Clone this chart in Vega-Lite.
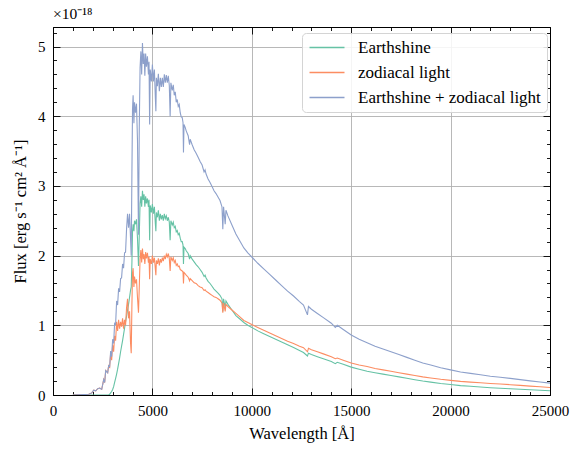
{
  "$schema": "https://vega.github.io/schema/vega-lite/v6.json",
  "width": 497,
  "height": 368,
  "autosize": {"type": "none"},
  "padding": {"left": 53, "top": 27, "right": 29, "bottom": 60},
  "background": "white",
  "config": {
    "font": "Liberation Serif",
    "view": {"stroke": "black", "strokeWidth": 1},
    "axis": {
      "domainColor": "black",
      "domainWidth": 1,
      "tickColor": "black",
      "tickWidth": 0.9,
      "gridColor": "#b0b0b0",
      "gridWidth": 0.9,
      "labelColor": "black",
      "labelFont": "Liberation Serif",
      "labelFontSize": 15,
      "titleFont": "Liberation Serif",
      "titleFontSize": 16.5,
      "titleFontWeight": "normal",
      "titleColor": "black"
    }
  },
  "title": {
    "text": "×10⁻¹⁸",
    "anchor": "start",
    "frame": "group",
    "offset": 4,
    "fontSize": 15.5,
    "font": "Liberation Serif",
    "fontWeight": "normal",
    "color": "black"
  },
  "data": {
    "values": [
      {"w": 1000, "E": 0, "Z": 0, "T": 0},
      {"w": 1800, "E": 0, "Z": 0.01, "T": 0.01},
      {"w": 1950, "E": 0, "Z": 0.03, "T": 0.03},
      {"w": 2050, "E": 0, "Z": 0.07, "T": 0.07},
      {"w": 2150, "E": 0, "Z": 0.06, "T": 0.06},
      {"w": 2250, "E": 0, "Z": 0.09, "T": 0.09},
      {"w": 2350, "E": 0, "Z": 0.1, "T": 0.1},
      {"w": 2450, "E": 0, "Z": 0.08, "T": 0.08},
      {"w": 2550, "E": 0, "Z": 0.22, "T": 0.22},
      {"w": 2600, "E": 0, "Z": 0.18, "T": 0.18},
      {"w": 2650, "E": 0, "Z": 0.35, "T": 0.35},
      {"w": 2750, "E": 0, "Z": 0.32, "T": 0.32},
      {"w": 2800, "E": 0, "Z": 0.42, "T": 0.42},
      {"w": 2850, "E": 0.01, "Z": 0.4, "T": 0.41},
      {"w": 2900, "E": 0.03, "Z": 0.6, "T": 0.63},
      {"w": 2950, "E": 0.05, "Z": 0.5, "T": 0.55},
      {"w": 3000, "E": 0.08, "Z": 0.72, "T": 0.8},
      {"w": 3050, "E": 0.12, "Z": 0.62, "T": 0.74},
      {"w": 3100, "E": 0.18, "Z": 0.85, "T": 1.03},
      {"w": 3150, "E": 0.24, "Z": 0.78, "T": 1.02},
      {"w": 3200, "E": 0.3, "Z": 1.05, "T": 1.35},
      {"w": 3250, "E": 0.37, "Z": 0.92, "T": 1.29},
      {"w": 3300, "E": 0.45, "Z": 1.08, "T": 1.53},
      {"w": 3350, "E": 0.53, "Z": 0.95, "T": 1.48},
      {"w": 3400, "E": 0.62, "Z": 1.05, "T": 1.67},
      {"w": 3450, "E": 0.7, "Z": 0.98, "T": 1.68},
      {"w": 3500, "E": 0.78, "Z": 1.1, "T": 1.88},
      {"w": 3550, "E": 0.87, "Z": 0.95, "T": 1.82},
      {"w": 3600, "E": 0.96, "Z": 1.08, "T": 2.04},
      {"w": 3650, "E": 1.05, "Z": 1.0, "T": 2.05},
      {"w": 3700, "E": 1.13, "Z": 1.25, "T": 2.38},
      {"w": 3750, "E": 1.22, "Z": 1.38, "T": 2.6},
      {"w": 3800, "E": 1.3, "Z": 1.1, "T": 2.4},
      {"w": 3850, "E": 1.4, "Z": 1.2, "T": 2.6},
      {"w": 3900, "E": 1.5, "Z": 0.75, "T": 2.25},
      {"w": 3935, "E": 1.55, "Z": 0.6, "T": 2.0},
      {"w": 3970, "E": 1.9, "Z": 1.3, "T": 3.2},
      {"w": 4000, "E": 2.35, "Z": 1.75, "T": 4.1},
      {"w": 4030, "E": 2.45, "Z": 1.82, "T": 4.3},
      {"w": 4070, "E": 2.35, "Z": 1.55, "T": 3.9},
      {"w": 4100, "E": 2.5, "Z": 1.7, "T": 4.2},
      {"w": 4150, "E": 2.45, "Z": 1.6, "T": 4.05},
      {"w": 4200, "E": 2.52, "Z": 1.66, "T": 4.18},
      {"w": 4250, "E": 2.25, "Z": 1.4, "T": 3.65},
      {"w": 4300, "E": 1.85, "Z": 1.18, "T": 2.3},
      {"w": 4340, "E": 2.3, "Z": 1.55, "T": 3.85},
      {"w": 4380, "E": 2.75, "Z": 1.95, "T": 4.7},
      {"w": 4420, "E": 2.85, "Z": 2.08, "T": 4.93},
      {"w": 4460, "E": 2.7, "Z": 1.9, "T": 4.6},
      {"w": 4500, "E": 2.93, "Z": 2.1, "T": 5.05},
      {"w": 4540, "E": 2.8, "Z": 1.95, "T": 4.75},
      {"w": 4580, "E": 2.88, "Z": 2.02, "T": 4.9},
      {"w": 4620, "E": 2.7, "Z": 1.88, "T": 4.58},
      {"w": 4660, "E": 2.85, "Z": 2.05, "T": 4.9},
      {"w": 4700, "E": 2.75, "Z": 1.96, "T": 4.71},
      {"w": 4750, "E": 2.82, "Z": 2.04, "T": 4.86},
      {"w": 4800, "E": 2.7, "Z": 1.9, "T": 4.6},
      {"w": 4830, "E": 2.8, "Z": 1.98, "T": 4.78},
      {"w": 4861, "E": 2.22, "Z": 1.66, "T": 3.88},
      {"w": 4890, "E": 2.72, "Z": 1.95, "T": 4.67},
      {"w": 4950, "E": 2.62, "Z": 1.88, "T": 4.5},
      {"w": 5000, "E": 2.74, "Z": 2.0, "T": 4.74},
      {"w": 5050, "E": 2.6, "Z": 1.9, "T": 4.5},
      {"w": 5100, "E": 2.7, "Z": 1.97, "T": 4.67},
      {"w": 5150, "E": 2.45, "Z": 1.8, "T": 4.25},
      {"w": 5175, "E": 2.35, "Z": 1.72, "T": 4.07},
      {"w": 5200, "E": 2.62, "Z": 1.93, "T": 4.55},
      {"w": 5250, "E": 2.55, "Z": 1.88, "T": 4.43},
      {"w": 5300, "E": 2.65, "Z": 1.96, "T": 4.61},
      {"w": 5350, "E": 2.5, "Z": 1.86, "T": 4.36},
      {"w": 5400, "E": 2.6, "Z": 1.95, "T": 4.55},
      {"w": 5450, "E": 2.52, "Z": 1.9, "T": 4.42},
      {"w": 5500, "E": 2.58, "Z": 1.97, "T": 4.55},
      {"w": 5550, "E": 2.5, "Z": 1.92, "T": 4.42},
      {"w": 5600, "E": 2.6, "Z": 2.0, "T": 4.6},
      {"w": 5650, "E": 2.53, "Z": 1.95, "T": 4.48},
      {"w": 5700, "E": 2.57, "Z": 2.02, "T": 4.59},
      {"w": 5750, "E": 2.5, "Z": 1.98, "T": 4.48},
      {"w": 5800, "E": 2.55, "Z": 2.03, "T": 4.58},
      {"w": 5850, "E": 2.48, "Z": 1.96, "T": 4.44},
      {"w": 5893, "E": 2.22, "Z": 1.78, "T": 4.0},
      {"w": 5930, "E": 2.5, "Z": 1.98, "T": 4.48},
      {"w": 6000, "E": 2.44, "Z": 1.93, "T": 4.37},
      {"w": 6050, "E": 2.48, "Z": 1.97, "T": 4.45},
      {"w": 6100, "E": 2.4, "Z": 1.9, "T": 4.3},
      {"w": 6150, "E": 2.42, "Z": 1.93, "T": 4.35},
      {"w": 6200, "E": 2.34, "Z": 1.86, "T": 4.2},
      {"w": 6250, "E": 2.36, "Z": 1.88, "T": 4.24},
      {"w": 6300, "E": 2.3, "Z": 1.84, "T": 4.14},
      {"w": 6350, "E": 2.32, "Z": 1.85, "T": 4.17},
      {"w": 6400, "E": 2.25, "Z": 1.8, "T": 4.05},
      {"w": 6450, "E": 2.2, "Z": 1.79, "T": 3.99},
      {"w": 6500, "E": 2.2, "Z": 1.78, "T": 3.98},
      {"w": 6540, "E": 2.15, "Z": 1.76, "T": 3.91},
      {"w": 6563, "E": 1.88, "Z": 1.6, "T": 3.48},
      {"w": 6590, "E": 2.12, "Z": 1.76, "T": 3.88},
      {"w": 6650, "E": 2.1, "Z": 1.74, "T": 3.84},
      {"w": 6700, "E": 2.07, "Z": 1.72, "T": 3.79},
      {"w": 6800, "E": 2.03, "Z": 1.69, "T": 3.72},
      {"w": 6870, "E": 1.95, "Z": 1.64, "T": 3.59},
      {"w": 6900, "E": 2.0, "Z": 1.67, "T": 3.67},
      {"w": 7000, "E": 1.95, "Z": 1.64, "T": 3.59},
      {"w": 7100, "E": 1.91, "Z": 1.61, "T": 3.52},
      {"w": 7200, "E": 1.87, "Z": 1.6, "T": 3.47},
      {"w": 7300, "E": 1.84, "Z": 1.57, "T": 3.41},
      {"w": 7400, "E": 1.8, "Z": 1.55, "T": 3.35},
      {"w": 7500, "E": 1.76, "Z": 1.54, "T": 3.3},
      {"w": 7600, "E": 1.7, "Z": 1.5, "T": 3.2},
      {"w": 7650, "E": 1.72, "Z": 1.51, "T": 3.23},
      {"w": 7700, "E": 1.68, "Z": 1.49, "T": 3.17},
      {"w": 7800, "E": 1.63, "Z": 1.47, "T": 3.1},
      {"w": 7900, "E": 1.6, "Z": 1.45, "T": 3.05},
      {"w": 8000, "E": 1.56, "Z": 1.43, "T": 2.99},
      {"w": 8100, "E": 1.52, "Z": 1.41, "T": 2.93},
      {"w": 8200, "E": 1.49, "Z": 1.4, "T": 2.89},
      {"w": 8300, "E": 1.46, "Z": 1.38, "T": 2.84},
      {"w": 8400, "E": 1.43, "Z": 1.36, "T": 2.79},
      {"w": 8500, "E": 1.38, "Z": 1.32, "T": 2.7},
      {"w": 8542, "E": 1.2, "Z": 1.18, "T": 2.38},
      {"w": 8580, "E": 1.38, "Z": 1.32, "T": 2.7},
      {"w": 8662, "E": 1.25, "Z": 1.2, "T": 2.45},
      {"w": 8700, "E": 1.35, "Z": 1.3, "T": 2.65},
      {"w": 8800, "E": 1.3, "Z": 1.27, "T": 2.57},
      {"w": 9000, "E": 1.22, "Z": 1.22, "T": 2.44},
      {"w": 9200, "E": 1.14, "Z": 1.17, "T": 2.31},
      {"w": 9400, "E": 1.09, "Z": 1.12, "T": 2.21},
      {"w": 9600, "E": 1.04, "Z": 1.07, "T": 2.11},
      {"w": 9800, "E": 1.0, "Z": 1.04, "T": 2.04},
      {"w": 10000, "E": 0.97, "Z": 1.01, "T": 1.98},
      {"w": 10300, "E": 0.92, "Z": 0.97, "T": 1.89},
      {"w": 10600, "E": 0.88, "Z": 0.93, "T": 1.81},
      {"w": 10900, "E": 0.84, "Z": 0.89, "T": 1.73},
      {"w": 11200, "E": 0.8, "Z": 0.85, "T": 1.65},
      {"w": 11500, "E": 0.76, "Z": 0.81, "T": 1.57},
      {"w": 11800, "E": 0.72, "Z": 0.77, "T": 1.49},
      {"w": 12100, "E": 0.68, "Z": 0.74, "T": 1.42},
      {"w": 12400, "E": 0.64, "Z": 0.7, "T": 1.34},
      {"w": 12600, "E": 0.61, "Z": 0.68, "T": 1.29},
      {"w": 12800, "E": 0.56, "Z": 0.62, "T": 1.15},
      {"w": 12850, "E": 0.6, "Z": 0.67, "T": 1.27},
      {"w": 13000, "E": 0.58, "Z": 0.65, "T": 1.23},
      {"w": 13300, "E": 0.55, "Z": 0.62, "T": 1.17},
      {"w": 13600, "E": 0.52, "Z": 0.59, "T": 1.11},
      {"w": 14000, "E": 0.48, "Z": 0.55, "T": 1.03},
      {"w": 14200, "E": 0.45, "Z": 0.52, "T": 0.97},
      {"w": 14300, "E": 0.47, "Z": 0.53, "T": 1.0},
      {"w": 14600, "E": 0.44, "Z": 0.5, "T": 0.94},
      {"w": 15000, "E": 0.4, "Z": 0.46, "T": 0.86},
      {"w": 15400, "E": 0.37, "Z": 0.43, "T": 0.8},
      {"w": 15800, "E": 0.34, "Z": 0.41, "T": 0.75},
      {"w": 16200, "E": 0.32, "Z": 0.38, "T": 0.7},
      {"w": 16600, "E": 0.3, "Z": 0.36, "T": 0.66},
      {"w": 17000, "E": 0.28, "Z": 0.34, "T": 0.62},
      {"w": 17400, "E": 0.26, "Z": 0.32, "T": 0.58},
      {"w": 17800, "E": 0.24, "Z": 0.3, "T": 0.54},
      {"w": 18200, "E": 0.22, "Z": 0.28, "T": 0.5},
      {"w": 18600, "E": 0.2, "Z": 0.26, "T": 0.46},
      {"w": 19000, "E": 0.185, "Z": 0.245, "T": 0.43},
      {"w": 19500, "E": 0.165, "Z": 0.225, "T": 0.39},
      {"w": 20000, "E": 0.15, "Z": 0.21, "T": 0.36},
      {"w": 20500, "E": 0.135, "Z": 0.195, "T": 0.33},
      {"w": 21000, "E": 0.125, "Z": 0.185, "T": 0.31},
      {"w": 21500, "E": 0.115, "Z": 0.175, "T": 0.29},
      {"w": 22000, "E": 0.105, "Z": 0.165, "T": 0.27},
      {"w": 22500, "E": 0.097, "Z": 0.157, "T": 0.254},
      {"w": 23000, "E": 0.09, "Z": 0.148, "T": 0.238},
      {"w": 23500, "E": 0.082, "Z": 0.138, "T": 0.22},
      {"w": 24000, "E": 0.075, "Z": 0.128, "T": 0.203},
      {"w": 24500, "E": 0.068, "Z": 0.118, "T": 0.186},
      {"w": 25000, "E": 0.062, "Z": 0.108, "T": 0.17}
    ]
  },
  "transform": [{"fold": ["E", "Z", "T"], "as": ["series", "flux"]}],
  "layer": [
    {
      "mark": {"type": "line", "strokeWidth": 1.1, "clip": true},
      "encoding": {
        "x": {
          "field": "w", "type": "quantitative",
          "scale": {"domain": [0, 25000], "nice": false, "zero": false},
          "axis": {
            "orient": "bottom",
            "title": "Wavelength [Å]",
            "values": [0, 5000, 10000, 15000, 20000, 25000],
            "format": "d",
            "labelFlush": false,
            "labelOverlap": false,
            "labelPadding": 15,
            "tickSize": -7,
            "grid": true,
            "titlePadding": 7
          }
        },
        "y": {
          "field": "flux", "type": "quantitative",
          "scale": {"domain": [0, 5.28], "nice": false},
          "axis": {
            "orient": "left",
            "title": "Flux [erg s⁻¹ cm² Å⁻¹]",
            "values": [0, 1, 2, 3, 4, 5],
            "format": "d",
            "labelFlush": false,
            "labelOverlap": false,
            "labelPadding": 15,
            "tickSize": -7,
            "grid": true,
            "titlePadding": 9
          }
        },
        "color": {
          "field": "series", "type": "nominal",
          "scale": {"domain": ["E", "Z", "T"], "range": ["#66c2a5", "#fc8d62", "#8da0cb"]},
          "legend": {
            "orient": "none",
            "legendX": 249,
            "legendY": 6,
            "title": null,
            "labelExpr": "datum.label === 'E' ? 'Earthshine' : datum.label === 'Z' ? 'zodiacal light' : 'Earthshine + zodiacal light'",
            "symbolType": "M-1,0H4",
            "symbolSize": 196,
            "symbolStrokeWidth": 1.5,
            "labelFont": "Liberation Serif",
            "labelFontSize": 17,
            "labelColor": "black",
            "labelOffset": 33,
            "rowPadding": 7,
            "padding": 6,
            "fillColor": "rgba(255,255,255,0.85)",
            "strokeColor": "#d4d4d4",
            "cornerRadius": 4,
            "labelLimit": 300
          }
        }
      }
    },
    {
      "mark": {"type": "line", "opacity": 0},
      "encoding": {
        "x": {
          "field": "w", "type": "quantitative",
          "axis": {
            "orient": "top", "title": null, "labels": false, "grid": false,
            "values": [0, 5000, 10000, 15000, 20000, 25000],
            "tickSize": -7
          }
        },
        "y": {
          "field": "flux", "type": "quantitative",
          "axis": {
            "orient": "right", "title": null, "labels": false, "grid": false,
            "values": [0, 1, 2, 3, 4, 5],
            "tickSize": -7
          }
        }
      }
    },
    {
      "mark": {"type": "line", "opacity": 0},
      "encoding": {
        "x": {
          "field": "w", "type": "quantitative",
          "axis": {
            "orient": "bottom", "title": null, "labels": false, "grid": false, "domain": false,
            "values": [1000,2000,3000,4000,6000,7000,8000,9000,11000,12000,13000,14000,16000,17000,18000,19000,21000,22000,23000,24000],
            "tickSize": -3.5
          }
        },
        "y": {
          "field": "flux", "type": "quantitative",
          "axis": {
            "orient": "left", "title": null, "labels": false, "grid": false, "domain": false,
            "values": [0.2,0.4,0.6,0.8,1.2,1.4,1.6,1.8,2.2,2.4,2.6,2.8,3.2,3.4,3.6,3.8,4.2,4.4,4.6,4.8,5.2],
            "tickSize": -3.5
          }
        }
      }
    },
    {
      "mark": {"type": "line", "opacity": 0},
      "encoding": {
        "x": {
          "field": "w", "type": "quantitative",
          "axis": {
            "orient": "top", "title": null, "labels": false, "grid": false, "domain": false,
            "values": [1000,2000,3000,4000,6000,7000,8000,9000,11000,12000,13000,14000,16000,17000,18000,19000,21000,22000,23000,24000],
            "tickSize": -3.5
          }
        },
        "y": {
          "field": "flux", "type": "quantitative",
          "axis": {
            "orient": "right", "title": null, "labels": false, "grid": false, "domain": false,
            "values": [0.2,0.4,0.6,0.8,1.2,1.4,1.6,1.8,2.2,2.4,2.6,2.8,3.2,3.4,3.6,3.8,4.2,4.4,4.6,4.8,5.2],
            "tickSize": -3.5
          }
        }
      }
    }
  ],
  "resolve": {"axis": {"x": "independent", "y": "independent"}}
}
